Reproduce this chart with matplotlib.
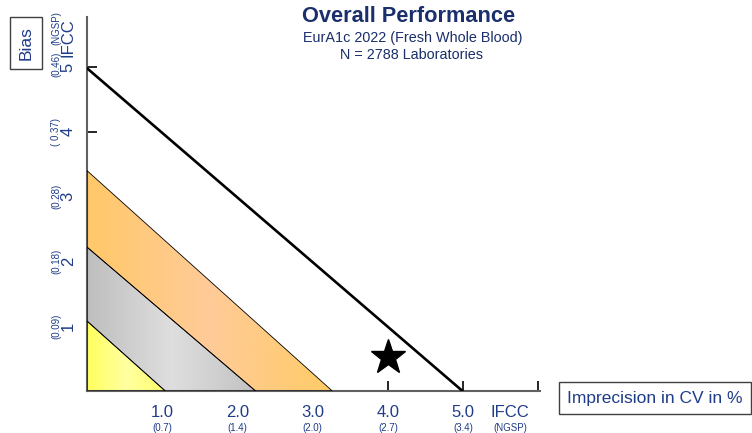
import matplotlib.pyplot as plt
import numpy as np
from matplotlib.patches import Polygon
from matplotlib.colors import LinearSegmentedColormap

plt.rcParams['font.family'] = ['Liberation Sans', 'DejaVu Sans']

# Datos
band_names = ['yellow', 'gray', 'orange']
band_y0 = [1.08, 2.22, 3.40]   # corte con eje de sesgo
band_x0 = [1.04, 2.24, 3.26]   # corte con eje de imprecisión
limit_y0 = 4.98
limit_x0 = 4.99
lab_x, lab_y = 4.0, 0.52

x_ticks = [1, 2, 3, 4, 5]
x_labels = ['1.0', '2.0', '3.0', '4.0', '5.0']
x_ngsp = ['(0.7)', '(1.4)', '(2.0)', '(2.7)', '(3.4)']
y_ticks = [1, 2, 3, 4, 5]
y_labels = ['1', '2', '3', '4', '5']
y_ngsp = ['(0.09)', '(0.18)', '(0.28)', '( 0.37)', '(0.46)']

blue = '#1F3C88'
navy = '#1A2F6B'

# colores de degradado: borde, centro, borde
grad = {
    'yellow': ['#FFFF5E', '#FFFFA0', '#FFFF6A'],
    'gray': ['#BEBEBE', '#DEDEDE', '#C2C2C2'],
    'orange': ['#FFC869', '#FFCB98', '#FFCB66'],
}

fig = plt.figure(figsize=(7.52, 4.33), dpi=100)
ax = fig.add_axes([87 / 752, 42 / 433, 453 / 752, 374 / 433])

prev_x, prev_y = 0, 0
for name, y0, x0 in zip(band_names, band_y0, band_x0):
    if prev_x == 0:
        verts = [(0, 0), (x0, 0), (0, y0)]
    else:
        verts = [(0, prev_y), (prev_x, 0), (x0, 0), (0, y0)]
    poly = Polygon(verts, closed=True, facecolor='none', edgecolor='black',
                   linewidth=0.6, zorder=3)
    ax.add_patch(poly)
    cmap = LinearSegmentedColormap.from_list(name, grad[name])
    g = np.linspace(0, 1, 256).reshape(1, -1)
    im = ax.imshow(g, cmap=cmap, extent=[0, x0, 0, y0], aspect='auto',
                   origin='lower', zorder=2, interpolation='bicubic')
    im.set_clip_path(poly)
    prev_x, prev_y = x0, y0

ax.plot([0, limit_x0], [limit_y0, 0], color='black', linewidth=1.9, zorder=4)
ax.plot([lab_x], [lab_y], marker='*', markersize=26, color='black', zorder=5)

ax.set_xlim(0, 6.02)
ax.set_ylim(0, 5.77)

# ejes
for s in ['top', 'right']:
    ax.spines[s].set_visible(False)
for s in ['left', 'bottom']:
    ax.spines[s].set_color('#606060')
    ax.spines[s].set_linewidth(1.5)
ax.set_xticks(x_ticks + [6.0])
ax.set_yticks(y_ticks)
ax.tick_params(direction='in', length=7, width=1.2, color='black',
               labelbottom=False, labelleft=False)

# etiquetas del eje x
for xt, lab, sub in zip(x_ticks, x_labels, x_ngsp):
    ax.text(xt, -0.33, lab, ha='center', va='center', fontsize=12, color=blue,
            clip_on=False)
    ax.text(xt, -0.57, sub, ha='center', va='center', fontsize=7, color=blue,
            clip_on=False)
ax.text(5.62, -0.33, 'IFCC', ha='center', va='center', fontsize=12, color=blue,
        clip_on=False)
ax.text(5.62, -0.57, '(NGSP)', ha='center', va='center', fontsize=7,
        color=blue, clip_on=False)

# etiquetas del eje y
for yt, lab, sub in zip(y_ticks, y_labels, y_ngsp):
    sub_y = yt + 0.04 if yt == 5 else yt
    ax.text(-0.25, yt, lab, ha='center', va='center', fontsize=12, color=blue,
            rotation=90, clip_on=False)
    ax.text(-0.41, sub_y, sub, ha='center', va='center', fontsize=7,
            color=blue, rotation=90, clip_on=False)
ax.text(-0.25, 5.45, 'IFCC', ha='center', va='center', fontsize=12, color=blue,
        rotation=90, clip_on=False)
ax.text(-0.41, 5.6, '(NGSP)', ha='center', va='center', fontsize=7,
        color=blue, rotation=90, clip_on=False)

# cuadros de título de ejes
box = dict(boxstyle='square,pad=0.5', facecolor='white', edgecolor='#404040',
           linewidth=1)
fig.text(26 / 752, 1 - 43 / 433, 'Bias', rotation=90, ha='center', va='center',
         fontsize=12.5, color=blue, bbox=box)
fig.text(655 / 752, 1 - 398 / 433, 'Imprecision in CV in %', ha='center',
         va='center', fontsize=12.5, color=blue, bbox=box)

# títulos
fig.text(409 / 752, 1 - 16 / 433, 'Overall Performance', ha='center',
         va='center', fontsize=15.7, fontweight='bold', color=navy)
fig.text(413 / 752, 1 - 38 / 433, 'EurA1c 2022 (Fresh Whole Blood)',
         ha='center', va='center', fontsize=10.4, color=navy)
fig.text(412 / 752, 1 - 55 / 433, 'N = 2788 Laboratories', ha='center',
         va='center', fontsize=10.4, color=navy)

plt.savefig('out.png', dpi=100)
plt.close()
